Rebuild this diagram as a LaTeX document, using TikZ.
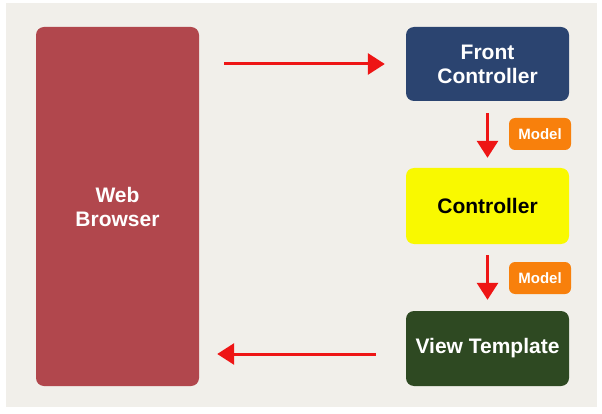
\documentclass[tikz,border=0pt]{standalone}
\usepackage{fontspec}
\setmainfont{Liberation Sans}
\usetikzlibrary{arrows.meta}
\definecolor{paper}{HTML}{F1EFEA}
\definecolor{browserred}{HTML}{B1474D}
\definecolor{frontblue}{HTML}{2B4470}
\definecolor{ctrlyellow}{HTML}{F9F900}
\definecolor{viewgreen}{HTML}{2E4922}
\definecolor{modelorange}{HTML}{F8800C}
\definecolor{flowred}{HTML}{EE1515}
\tikzset{
  box/.style={rounded corners=8pt, minimum width=163pt, align=center,
    font=\fontsize{21}{24}\selectfont\bfseries, inner sep=0pt},
  badge/.style={rounded corners=6pt, fill=modelorange, text=white,
    minimum width=62pt, minimum height=32pt, inner sep=0pt,
    font=\fontsize{15}{18}\selectfont\bfseries},
  flow/.style={draw=flowred, line width=3pt,
    -{Triangle[length=17pt,width=21pt]}},
}
\begin{document}
\begin{tikzpicture}[x=1pt,y=-1pt]
  % page and paper
  \fill[white] (0,0) rectangle (602,414);
  \fill[paper] (6,3) rectangle (597,407);
  \useasboundingbox (0,0) rectangle (602,414);

  % boxes
  \node[box, fill=browserred, text=white, minimum height=359pt]
    (browser) at (117.5,206.5) {Web\\Browser};
  \node[box, fill=frontblue, text=white, minimum height=74pt]
    (front) at (487.5,64) {Front\\Controller};
  \node[box, fill=ctrlyellow, text=black, minimum height=76pt]
    (ctrl) at (487.5,206) {Controller};
  \node[box, fill=viewgreen, text=white, minimum height=75pt]
    (view) at (487.5,348.5) {View Template};

  % model badges
  \node[badge] (model1) at (540,134) {Model};
  \node[badge] (model2) at (540,278) {Model};

  % request / response flow
  \draw[flow, shorten <=25pt, shorten >=21pt]
    (browser.east |- front.west) -- (front.west);
  \draw[flow, shorten <=12pt, shorten >=10pt] (front.south) -- (ctrl.north);
  \draw[flow, shorten <=11pt, shorten >=11pt] (ctrl.south) -- (view.north);
  \draw[flow, shorten <=30pt, shorten >=18pt]
    ([yshift=-5.5pt]view.west) -- ([yshift=-5.5pt]view.west -| browser.east);
\end{tikzpicture}
\end{document}
